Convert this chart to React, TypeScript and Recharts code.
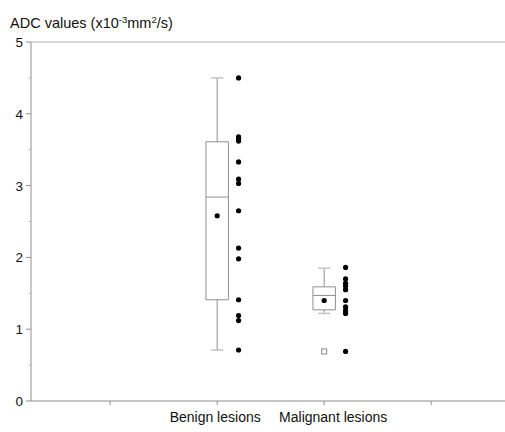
import React from 'react';
import {
  ComposedChart,
  XAxis,
  YAxis,
  Scatter,
  ReferenceArea,
  ReferenceLine,
} from 'recharts';

// ---- data ----
const categories = ['Benign lesions', 'Malignant lesions'];
const categoryX = [2, 3];
const xTicks = [1, 2, 3, 4];
const yTicks = [0, 0.5, 1, 1.5, 2, 2.5, 3, 3.5, 4, 4.5, 5];

const benignValues = [4.5, 3.68, 3.65, 3.62, 3.33, 3.09, 3.03, 2.65, 2.13, 1.98, 1.41, 1.19, 1.12, 0.71];
const malignantValues = [1.86, 1.7, 1.64, 1.6, 1.55, 1.4, 1.31, 1.26, 1.22, 0.69];

const whiskerLow = [0.71, 1.22];
const q1 = [1.41, 1.27];
const median = [2.84, 1.47];
const q3 = [3.61, 1.59];
const whiskerHigh = [4.5, 1.85];
const means = [2.58, 1.4];
const outliers = [[], [0.69]];

// ---- style ----
const FONT = 'Liberation Sans, Arial, sans-serif';
const AXIS = '#8f8f8f';
const BOX = '#8f8f8f';
const CAP = '#c4c4c4';
const BOX_HALF = 0.105;
const CAP_HALF = 0.056;
const POINTS_OFFSET = 0.2;

const rawSeries = [benignValues, malignantValues];
const rawData = rawSeries.flatMap((vals, i) => vals.map((v) => ({ x: categoryX[i] + POINTS_OFFSET, y: v })));
const meanData = means.map((m, i) => ({ x: categoryX[i], y: m }));
const outlierData = outliers.flatMap((vals, i) => vals.map((v) => ({ x: categoryX[i], y: v })));

const Dot = (props: any) => {
  const { cx, cy } = props;
  if (cx == null || cy == null) return null;
  return <circle cx={cx} cy={cy} r={2.6} fill="#000" />;
};
const Square = (props: any) => {
  const { cx, cy } = props;
  if (cx == null || cy == null) return null;
  return <rect x={cx - 2.5} y={cy - 2.5} width={5} height={5} fill="#fff" stroke="#888" strokeWidth={1} />;
};

const YTick = (props: any) => {
  const { x, y, payload } = props;
  const v = payload.value;
  const major = Number.isInteger(v);
  return (
    <g>
      <line x1={x - (major ? 5 : 2.5)} x2={x} y1={y} y2={y} stroke={major ? AXIS : '#b5b5b5'} />
      {major && (
        <text x={x - 8} y={y + 5} textAnchor="end" fontSize={13.5} fontFamily={FONT} fill="#111">
          {v}
        </text>
      )}
    </g>
  );
};

const labelShift: Record<number, number> = { 2: -2, 3: 9 };
const XTick = (props: any) => {
  const { x, y, payload } = props;
  const idx = categoryX.indexOf(payload.value);
  return (
    <g>
      <line x1={x} x2={x} y1={y} y2={y + 4} stroke={AXIS} />
      {idx >= 0 && (
        <text x={x + (labelShift[payload.value] || 0)} y={y + 21} textAnchor="middle" fontSize={14} fontFamily={FONT} fill="#111">
          {categories[idx]}
        </text>
      )}
    </g>
  );
};

export default function App() {
  return (
    <div style={{ position: 'absolute', left: 0, top: 0, width: 505, height: 432, background: '#fff' }}>
      <svg width={505} height={40} style={{ position: 'absolute', left: 0, top: 0 }}>
        <text x={10} y={28} fontSize={14.5} fontFamily={FONT} fill="#111">
          ADC values (x10
          <tspan dy={-5} fontSize={9.5}>-3</tspan>
          <tspan dy={5}>mm</tspan>
          <tspan dy={-5} fontSize={9.5}>2</tspan>
          <tspan dy={5}>/s)</tspan>
        </text>
      </svg>
      <div style={{ position: 'absolute', left: 0, top: 0 }}>
        <ComposedChart width={505} height={432} margin={{ top: 42, right: 0, left: 0, bottom: 0 }}>
          <XAxis
            type="number"
            dataKey="x"
            domain={[0.26, 4.69]}
            ticks={xTicks}
            interval={0}
            allowDataOverflow
            height={31}
            tickSize={0}
            tickMargin={0}
            stroke={AXIS}
            tick={<XTick />}
          />
          <YAxis
            type="number"
            dataKey="y"
            domain={[0, 5]}
            ticks={yTicks}
            interval={0}
            allowDataOverflow
            width={31}
            tickSize={0}
            tickMargin={0}
            stroke={AXIS}
            tick={<YTick />}
          />
          <ReferenceLine y={5} stroke="#cccccc" strokeWidth={1.5} ifOverflow="visible" />
          {categoryX.map((cx, i) => (
            <ReferenceArea
              key={'box' + i}
              x1={cx - BOX_HALF}
              x2={cx + BOX_HALF}
              y1={q1[i]}
              y2={q3[i]}
              fill="#fff"
              fillOpacity={1}
              stroke={BOX}
              strokeWidth={1}
              ifOverflow="visible"
            />
          ))}
          {categoryX.map((cx, i) => (
            <ReferenceLine
              key={'med' + i}
              segment={[{ x: cx - BOX_HALF, y: median[i] }, { x: cx + BOX_HALF, y: median[i] }]}
              stroke={BOX}
              ifOverflow="visible"
            />
          ))}
          {categoryX.map((cx, i) => (
            <ReferenceLine
              key={'wu' + i}
              segment={[{ x: cx, y: q3[i] }, { x: cx, y: whiskerHigh[i] }]}
              stroke={BOX}
              ifOverflow="visible"
            />
          ))}
          {categoryX.map((cx, i) => (
            <ReferenceLine
              key={'wl' + i}
              segment={[{ x: cx, y: q1[i] }, { x: cx, y: whiskerLow[i] }]}
              stroke={BOX}
              ifOverflow="visible"
            />
          ))}
          {categoryX.map((cx, i) => (
            <ReferenceLine
              key={'cu' + i}
              segment={[{ x: cx - CAP_HALF, y: whiskerHigh[i] }, { x: cx + CAP_HALF, y: whiskerHigh[i] }]}
              stroke={CAP}
              strokeWidth={1.5}
              ifOverflow="visible"
            />
          ))}
          {categoryX.map((cx, i) => (
            <ReferenceLine
              key={'cl' + i}
              segment={[{ x: cx - CAP_HALF, y: whiskerLow[i] }, { x: cx + CAP_HALF, y: whiskerLow[i] }]}
              stroke={CAP}
              strokeWidth={1.5}
              ifOverflow="visible"
            />
          ))}
          <Scatter data={rawData} shape={<Dot />} isAnimationActive={false} />
          <Scatter data={meanData} shape={<Dot />} isAnimationActive={false} />
          <Scatter data={outlierData} shape={<Square />} isAnimationActive={false} />
        </ComposedChart>
      </div>
    </div>
  );
}
